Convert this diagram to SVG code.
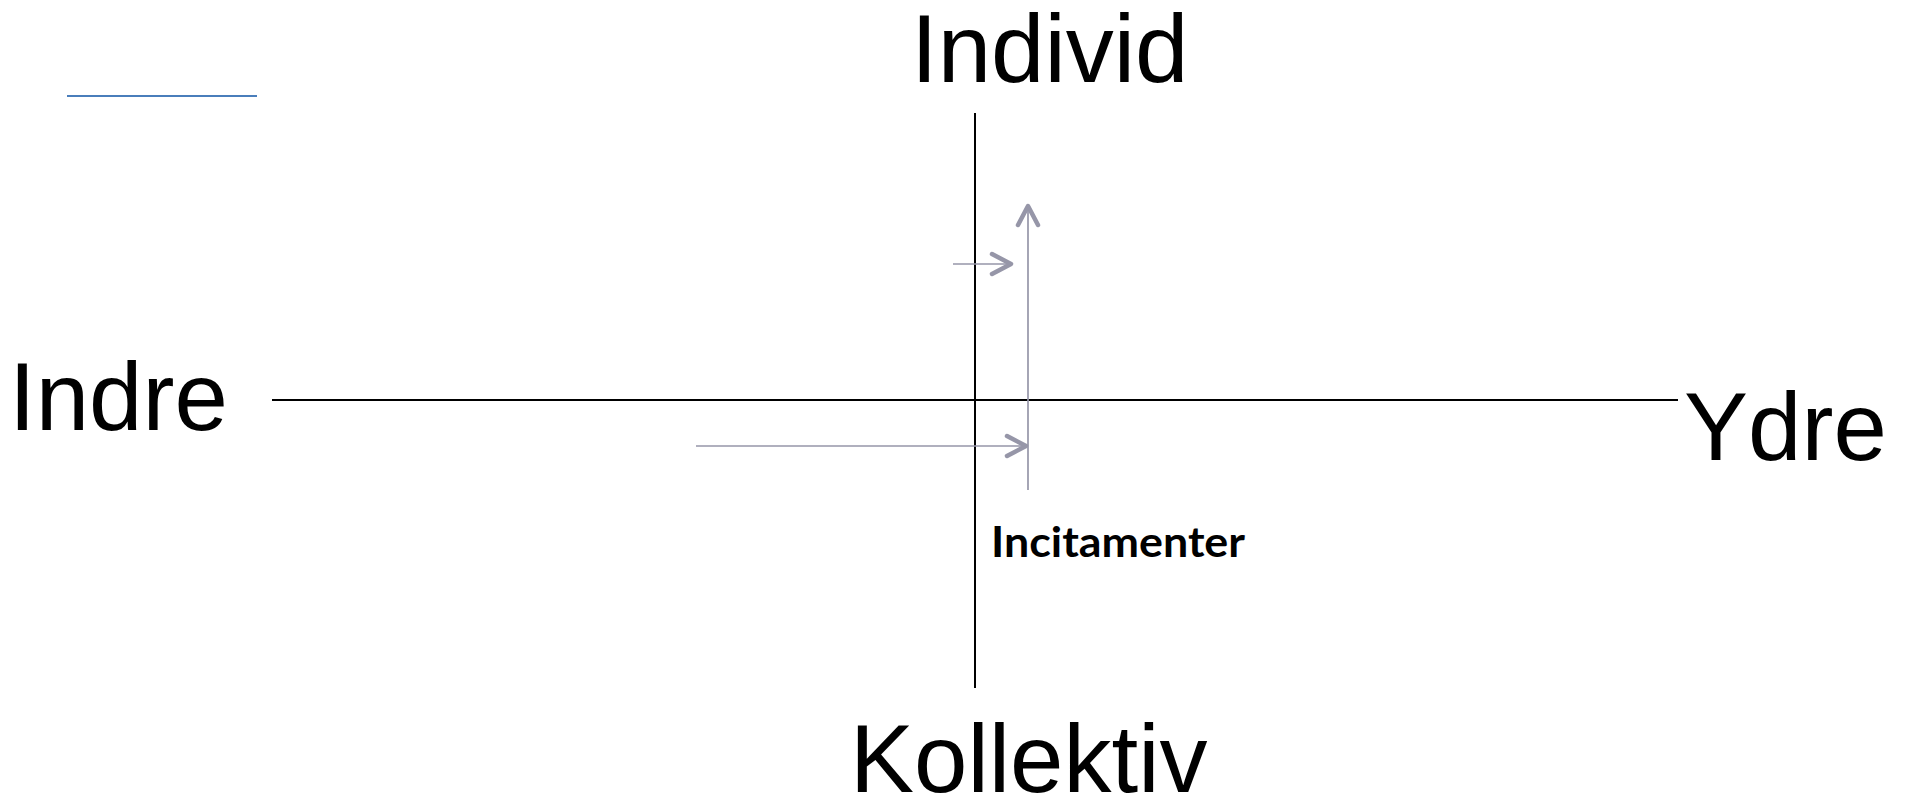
<svg xmlns="http://www.w3.org/2000/svg" width="1905" height="798" viewBox="0 0 1905 798">
<style>
.lbl{font-family:"Liberation Sans",Arial,sans-serif;font-size:96px;fill:#000}
.axis{stroke:#000;stroke-width:2;fill:none}
.conn{stroke:#9696a8;stroke-width:1.7;fill:none}
.head{stroke:#9696a8;stroke-width:4.5;fill:none;stroke-linecap:round;stroke-linejoin:round}
.sub{font-family:Lato,"Open Sans",sans-serif;font-weight:bold;font-size:42px;fill:#000}
</style>
<rect width="1905" height="798" fill="#fff"/>
<line x1="67" y1="96" x2="257" y2="96" stroke="#4a7ebb" stroke-width="2"/>
<g id="axes">
<line class="axis" x1="975" y1="113" x2="975" y2="688"/>
<line class="axis" x1="272" y1="400" x2="1678" y2="400"/>
</g>
<g id="node-individ"><text class="lbl" x="911" y="82">Individ</text></g>
<g id="node-indre"><text class="lbl" x="9" y="430">Indre</text></g>
<g id="node-ydre"><text class="lbl" x="1684" y="460">Ydre</text></g>
<g id="node-kollektiv"><text class="lbl" x="850" y="792">Kollektiv</text></g>
<g id="node-incitamenter"><text class="sub" x="991" y="557" textLength="254" lengthAdjust="spacingAndGlyphs">Incitamenter</text></g>
<g id="connectors">
<line class="conn" x1="1028" y1="490" x2="1028" y2="206"/>
<polyline class="head" points="1018,225 1028,206 1038,225"/>
<line class="conn" x1="953" y1="264" x2="1011" y2="264"/>
<polyline class="head" points="992,254 1011,264 992,274"/>
<line class="conn" x1="696" y1="446" x2="1026" y2="446"/>
<polyline class="head" points="1007,436 1026,446 1007,456"/>
</g>
</svg>
